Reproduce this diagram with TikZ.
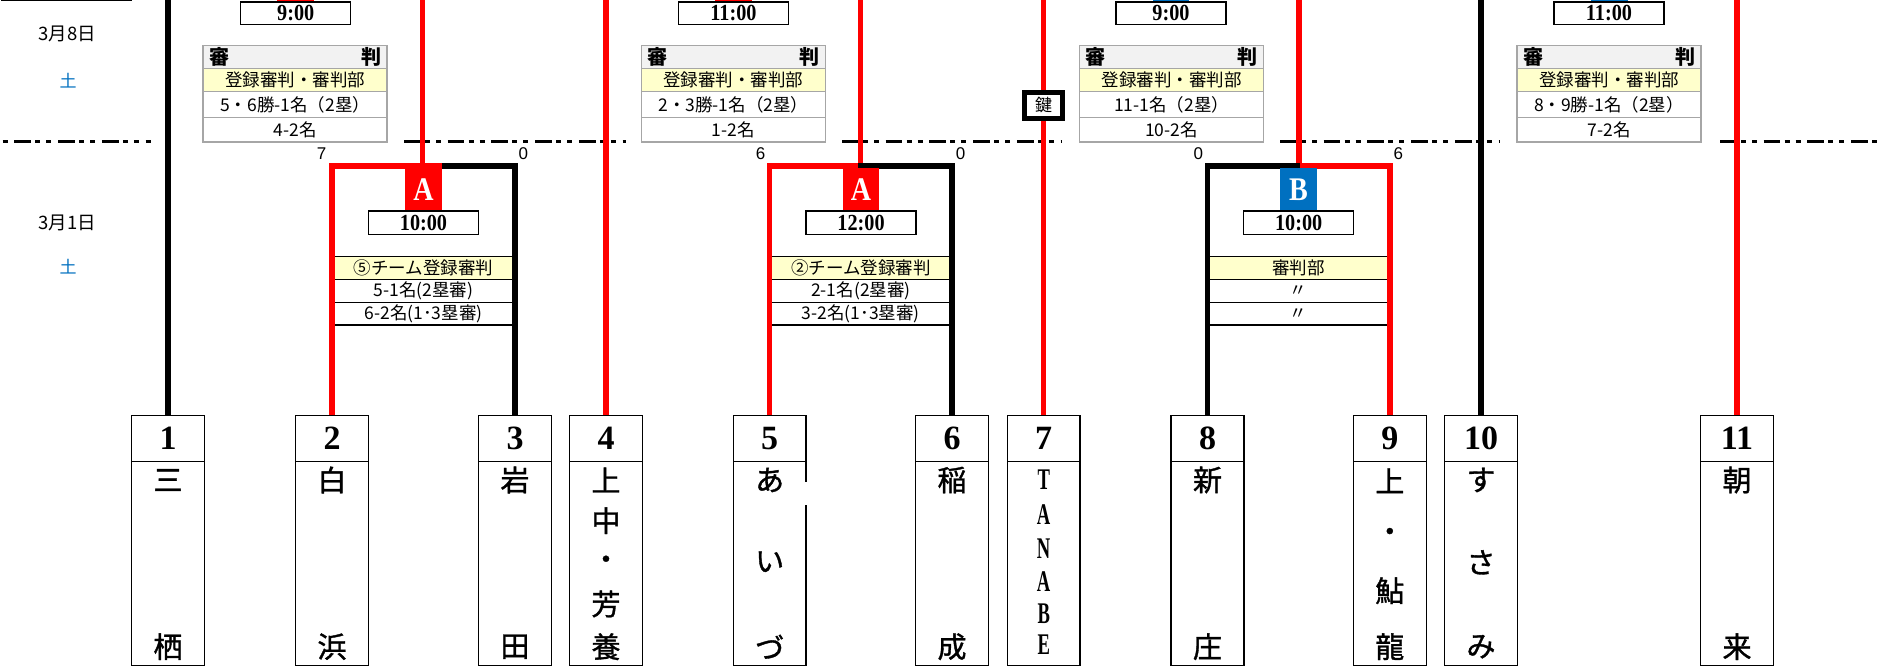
\documentclass[tikz,border=0pt]{standalone}
\usepackage{fontspec}
\setmainfont{Liberation Serif}
\newfontfamily\jp{Noto Sans CJK JP}
\newfontfamily\jpheavy{Noto Sans CJK JP}[FakeBold=1.2]
\newfontfamily\lsans{Liberation Sans}
\newfontfamily\condserif{Liberation Serif}[FakeStretch=0.88]
\newfontfamily\tagserif{Liberation Serif}[FakeStretch=0.85]
\newfontfamily\narrowserif{Liberation Serif}[FakeStretch=0.62]
\definecolor{cred}{HTML}{FF0000}
\definecolor{cblue}{HTML}{0070C0}
\definecolor{cyel}{HTML}{FFFFCC}
\definecolor{chead}{HTML}{F2F2F2}
\definecolor{cgray}{HTML}{A6A6A6}
\tikzset{
  vln/.style={line width=5.5pt},
  numbox/.style={draw, line width=1.3pt, minimum width=72.8pt, minimum height=46pt, inner sep=0pt, font=\bfseries\fontsize{34}{34}\selectfont},
  namebox/.style={draw, line width=1.3pt, minimum width=72.8pt, minimum height=204pt, inner sep=0pt},
  jch/.style={inner sep=0pt, font=\jpheavy\fontsize{29}{29}\selectfont},
  lch/.style={inner sep=0pt, font=\narrowserif\bfseries\fontsize{30}{30}\selectfont},
  timebox/.style={draw, line width=1.3pt, fill=white, minimum width=110pt, minimum height=23pt, inner sep=0pt, font=\condserif\bfseries\fontsize{23}{23}\selectfont},
  lblbox/.style={minimum width=36.5pt, inner sep=0pt, text=white, font=\tagserif\bfseries\fontsize{33}{33}\selectfont},
  scorelbl/.style={inner sep=0pt, font=\lsans\fontsize{17}{17}\selectfont},
  r1row/.style={draw, line width=1.2pt, minimum width=182.5pt, inner sep=0pt, font=\jp\fontsize{17.5}{17.5}\selectfont},
  r2row/.style={draw=cgray, line width=1.5pt, minimum width=184pt, inner sep=0pt, font=\jp\fontsize{17.5}{17.5}\selectfont},
  datelbl/.style={inner sep=0pt, font=\jp\fontsize{18.5}{18.5}\selectfont},
  daylbl/.style={inner sep=0pt, text=cblue, font=\jp\fontsize{17}{17}\selectfont},
  keybox/.style={draw, line width=5pt, fill=white, minimum width=38pt, minimum height=25.7pt, inner sep=0pt, font=\jp\fontsize{17}{17}\selectfont},
  dashln/.style={line width=2.3pt, dash pattern=on 16.7pt off 4.3pt on 5pt off 6pt on 5pt off 6.7pt}
}
\begin{document}
\begin{tikzpicture}[x=1pt,y=-1pt,line join=miter]
\clip (0,0) rectangle (1898,667);
\fill[white] (0,0) rectangle (1898,667);

% corner box at top left
\node[draw, line width=2pt, minimum width=128.7pt, minimum height=40pt, inner sep=0pt, anchor=south west] (corner) at (1,0.8) {};

% dates
\node[datelbl] (d8) at (67,34) {3月8日};
\node[daylbl] (d8w) at (68,80.7) {土};
\node[datelbl] (d1) at (67,222.5) {3月1日};
\node[daylbl] (d1w) at (68,267) {土};

% dashed separator
\coordinate (s0a) at (0,141.5);   \coordinate (s0b) at (151,141.5);
\coordinate (s1a) at (404,141.5); \coordinate (s1b) at (626,141.5);
\coordinate (s2a) at (842,141.5); \coordinate (s2b) at (1062,141.5);
\coordinate (s3a) at (1280,141.5);\coordinate (s3b) at (1500,141.5);
\coordinate (s4a) at (1720,141.5);\coordinate (s4b) at (1882,141.5);
\draw[dashln, dash phase=29.3pt] (s0a) -- (s0b);
\draw[dashln] (s1a) -- (s1b);
\draw[dashln] (s2a) -- (s2b);
\draw[dashln] (s3a) -- (s3b);
\draw[dashln] (s4a) -- (s4b);

% round 2 referee tables
\foreach \i/\cx/\ra/\rb in {1/295.2/{5・6勝-1名（2塁）}/{4-2名}, 2/733.3/{2・3勝-1名（2塁）}/{1-2名}, 3/1171.6/{11-1名（2塁）}/{10-2名}, 4/1609/{8・9勝-1名（2塁）}/{7-2名}}
{
  \node[r2row, fill=chead, minimum height=22.6pt, text width=172pt, font=\jp\bfseries\fontsize{20}{20}\selectfont] (h\i) at (\cx,57) {審\hfill 判};
  \node[r2row, fill=cyel, minimum height=23.4pt] (y\i) at (\cx,80) {登録審判・審判部};
  \node[r2row, fill=white, minimum height=25.6pt] (p\i) at (\cx,104.5) {\ra};
  \node[r2row, fill=white, minimum height=24.7pt] (q\i) at (\cx,129.65) {\rb};
}

% round 1 referee tables
\node[r1row, fill=cyel, minimum height=22.6pt] (a1h) at (423.5,268) {⑤チーム登録審判};
\node[r1row, minimum height=23pt] (a1p) at (423.5,290.8) {5-1名(2塁審)};
\node[r1row, minimum height=22.7pt] (a1q) at (423.5,313.65) {6-2名(1･3塁審)};
\node[r1row, fill=cyel, minimum height=22.6pt] (a2h) at (860.85,268) {②チーム登録審判};
\node[r1row, minimum height=23pt] (a2p) at (860.85,290.8) {2-1名(2塁審)};
\node[r1row, minimum height=22.7pt] (a2q) at (860.85,313.65) {3-2名(1･3塁審)};
\node[r1row, fill=cyel, minimum height=22.6pt] (bh) at (1298.65,268) {審判部};
\node[r1row, minimum height=23pt] (bp) at (1298.65,290.8) {〃};
\node[r1row, minimum height=22.7pt] (bq) at (1298.65,313.65) {〃};

% team boxes
\foreach \i/\cx in {1/168, 2/332, 3/515, 4/606, 5/769.7, 6/952, 7/1043.7, 8/1207.5, 9/1389.8, 10/1481, 11/1737}
{
  \node[namebox] (m\i) at (\cx,563.3) {};
  \node[numbox] (n\i) at (\cx,438.3) {\i};
}
% small gap in the border of box 5
\path (m5.north east) ++(0,21.7) coordinate (g5a) ++(0,23) coordinate (g5b);
\draw[white, line width=3pt] (g5a) -- (g5b);

% team names
\node[jch] (m1a) at (168,480) {三};   \node[jch] (m1b) at (168,646.7) {栖};
\node[jch] (m2a) at (332,480) {白};   \node[jch] (m2b) at (332,646.7) {浜};
\node[jch] (m3a) at (515,480) {岩};   \node[jch] (m3b) at (515,646.7) {田};
\node[jch] (m4a) at (606,480) {上};   \node[jch] (m4b) at (606,520.7) {中};
\node[jch] (m4c) at (606,562.7) {・};  \node[jch] (m4d) at (606,604) {芳};
\node[jch] (m4e) at (606,646.7) {養};
\node[jch] (m5a) at (769.7,480) {あ}; \node[jch] (m5b) at (769.7,561.7) {い};
\node[jch] (m5c) at (769.7,646.7) {づ};
\node[jch] (m6a) at (952,480) {稲};   \node[jch] (m6b) at (952,646.7) {成};
\node[lch] (m7a) at (1043.7,479.3) {T};
\node[lch] (m7b) at (1043.7,515) {A};
\node[lch] (m7c) at (1043.7,548.3) {N};
\node[lch] (m7d) at (1043.7,581.7) {A};
\node[lch] (m7e) at (1043.7,614) {B};
\node[lch] (m7f) at (1043.7,645) {E};
\node[jch] (m8a) at (1207.5,480) {新}; \node[jch] (m8b) at (1207.5,646.7) {庄};
\node[jch] (m9a) at (1389.8,480.7) {上}; \node[jch] (m9b) at (1389.8,535) {・};
\node[jch] (m9c) at (1389.8,590.7) {鮎}; \node[jch] (m9d) at (1389.8,646.7) {龍};
\node[jch] (m10a) at (1481,480) {す}; \node[jch] (m10b) at (1481,562.3) {さ};
\node[jch] (m10c) at (1481,646.7) {み};
\node[jch] (m11a) at (1737,480) {朝}; \node[jch] (m11b) at (1737,646.7) {来};

% straight lines from the top
\coordinate (top1) at (168,0);
\coordinate (top4) at (606,0);
\coordinate (top7) at (1043.7,0);
\coordinate (top10) at (1481,0);
\coordinate (top11) at (1737,0);
\draw[vln] (top1) -- (n1.north);
\draw[vln, cred] (top4) -- (n4.north);
\draw[vln, cred] (top7) -- (n7.north);
\draw[vln] (top10) -- (n10.north);
\draw[vln, cred] (top11) -- (n11.north);

% bracket A (2-3)
\coordinate (bA1l) at (332,165.8); \coordinate (bA1m) at (441.7,165.8); \coordinate (bA1r) at (515,165.8);
\draw[vln, cred] (n2.north) -- (bA1l) -- (bA1m);
\draw[vln] (n3.north) -- (bA1r) -- (bA1m);
\coordinate (uA1t) at (422.7,0); \coordinate (uA1b) at (422.7,163.3);
\draw[vln, cred] (uA1t) -- (uA1b);

% bracket A (5-6)
\coordinate (bA2l) at (769.7,165.8); \coordinate (bA2m) at (858.3,165.8); \coordinate (bA2r) at (952,165.8);
\draw[vln, cred] (n5.north) -- (bA2l) -- (bA2m);
\draw[vln] (n6.north) -- (bA2r) -- (bA2m);
\coordinate (uA2t) at (860.7,0); \coordinate (uA2b) at (860.7,163.3);
\draw[vln, cred] (uA2t) -- (uA2b);

% bracket B (8-9)
\coordinate (bBl) at (1207.5,165.8); \coordinate (bBm) at (1300,165.8); \coordinate (bBr) at (1389.8,165.8);
\draw[vln] (n8.north) -- (bBl) -- (bBm);
\draw[vln, cred] (n9.north) -- (bBr) -- (bBm);
\coordinate (uBt) at (1298.8,0); \coordinate (uBb) at (1298.8,163.3);
\draw[vln, cred] (uBt) -- (uBb);

% scores
\node[scorelbl] (s2) at (321.7,153.3) {7};
\node[scorelbl] (s3) at (523.3,153.3) {0};
\node[scorelbl] (s5) at (760.7,153.3) {6};
\node[scorelbl] (s6) at (960.7,153.3) {0};
\node[scorelbl] (s8) at (1198.3,153.3) {0};
\node[scorelbl] (s9) at (1398.3,153.3) {6};

% match labels and times, round 1
\node[lblbox, fill=cred, minimum height=42.2pt] (lA1) at (423.5,189.4) {A};
\node[lblbox, fill=cred, minimum height=42.2pt] (lA2) at (861,189.4) {A};
\node[lblbox, fill=cblue, minimum height=42.2pt] (lB) at (1298.4,189.4) {B};
\node[timebox, minimum height=23.3pt] (tA1) at (423.5,222.65) {10:00};
\node[timebox, minimum height=23.3pt] (tA2) at (861,222.65) {12:00};
\node[timebox, minimum height=23.3pt] (tB) at (1298.7,222.65) {10:00};

% round 2 labels (cut off at top) and times
\node[lblbox, fill=cred, minimum height=42pt] (uL1) at (295.5,-19) {};
\node[lblbox, fill=cred, minimum height=42pt] (uL2) at (733.3,-19) {};
\node[lblbox, fill=cblue, minimum height=42pt] (uL3) at (1171,-19) {};
\node[lblbox, fill=cblue, minimum height=42pt] (uL4) at (1609.5,-19) {};
\node[timebox, minimum height=22.3pt] (uT1) at (295.7,13.1) {9:00};
\node[timebox, minimum height=22.3pt] (uT2) at (733.5,13.1) {11:00};
\node[timebox, minimum height=22.3pt] (uT3) at (1171,13.1) {9:00};
\node[timebox, minimum height=22.3pt] (uT4) at (1609,13.1) {11:00};

% key box
\node[keybox] (key) at (1043.5,105.4) {鍵};
\end{tikzpicture}
\end{document}
